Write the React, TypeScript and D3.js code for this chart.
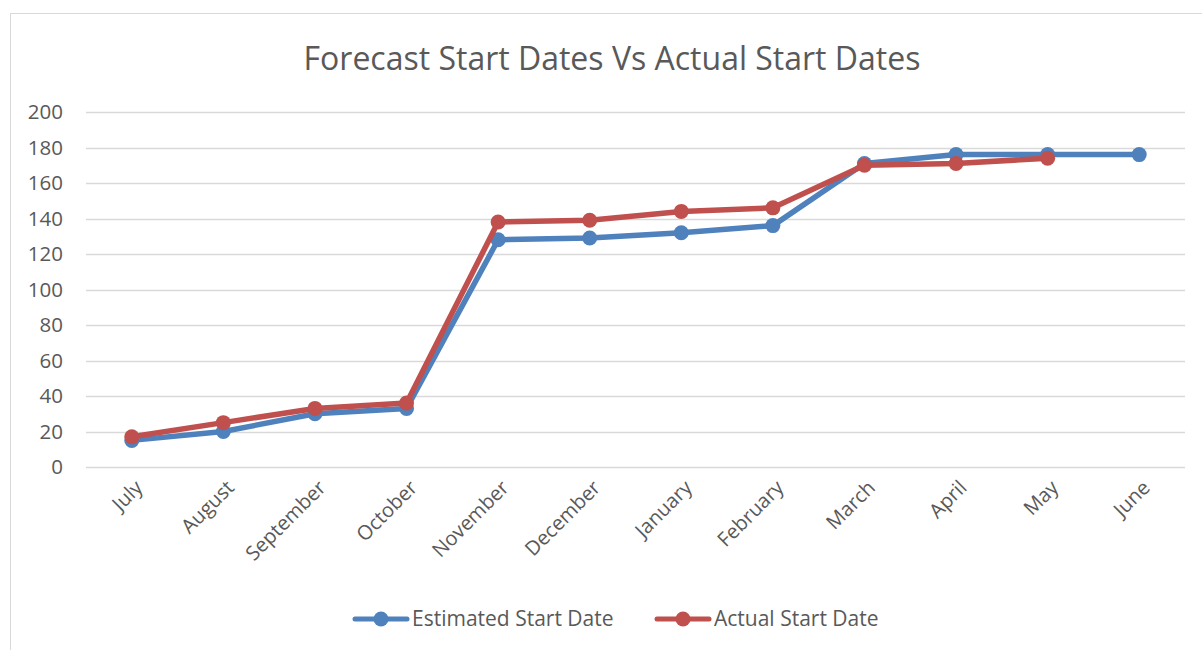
import { useEffect, useRef } from "react";
import * as d3 from "d3";

const months = ["July", "August", "September", "October", "November", "December", "January", "February", "March", "April", "May", "June"];
const estimated = [15, 20, 30, 33, 128, 129, 132, 136, 171, 176, 176, 176];
const actual = [17, 25, 33, 36, 138, 139, 144, 146, 170, 171, 174];
const yTicks = [0, 20, 40, 60, 80, 100, 120, 140, 160, 180, 200];

const series = [
  { name: "Estimated Start Date", values: estimated, color: "#4f81bd" },
  { name: "Actual Start Date", values: actual, color: "#c0504d" },
];

const W = 1202;
const H = 650;
const FONT = "'Open Sans', sans-serif";

export default function App() {
  const ref = useRef<SVGSVGElement>(null);

  useEffect(() => {
    const svg = d3.select(ref.current);
    svg.selectAll("*").remove();

    // chart frame (runs off the right/bottom edge like the screenshot)
    svg.append("rect")
      .attr("x", 10.5).attr("y", 13.5)
      .attr("width", W).attr("height", H)
      .attr("fill", "#fff")
      .attr("stroke", "#d9d9d9");

    svg.append("text")
      .attr("x", 612).attr("y", 70)
      .attr("text-anchor", "middle")
      .attr("font-family", FONT)
      .attr("font-size", 32)
      .attr("fill", "#595959")
      .text("Forecast Start Dates Vs Actual Start Dates");

    const x = d3.scaleBand().domain(months).range([86, 1185]);
    const y = d3.scaleLinear().domain([0, 200]).range([467, 112]);

    // gridlines + y labels
    const yAxis = svg.append("g");
    yAxis.selectAll("line")
      .data(yTicks)
      .join("line")
      .attr("x1", 86).attr("x2", 1185)
      .attr("y1", d => Math.round(y(d)) + 0.5)
      .attr("y2", d => Math.round(y(d)) + 0.5)
      .attr("stroke", "#d9d9d9")
      .attr("stroke-width", 1.5);
    yAxis.selectAll("text")
      .data(yTicks)
      .join("text")
      .attr("x", 63).attr("y", d => y(d))
      .attr("dy", "0.35em")
      .attr("text-anchor", "end")
      .attr("font-family", FONT)
      .attr("font-size", 20.5)
      .attr("fill", "#595959")
      .text(d => d);

    // x labels, rotated
    const cx = (m: string) => (x(m) as number) + x.bandwidth() / 2;
    svg.append("g").selectAll("text")
      .data(months)
      .join("text")
      .attr("transform", d => `translate(${cx(d) + 7},${484}) rotate(-45)`)
      .attr("text-anchor", "end")
      .attr("dy", "0.35em")
      .attr("font-family", FONT)
      .attr("font-size", 20)
      .attr("fill", "#595959")
      .text(d => d);

    const line = d3.line<number>()
      .x((_, i) => cx(months[i]))
      .y(d => y(d));

    series.forEach(s => {
      const g = svg.append("g");
      g.append("path")
        .attr("d", line(s.values))
        .attr("fill", "none")
        .attr("stroke", s.color)
        .attr("stroke-width", 5.5)
        .attr("stroke-linejoin", "round");
      g.selectAll("circle")
        .data(s.values)
        .join("circle")
        .attr("cx", (_, i) => cx(months[i]))
        .attr("cy", d => y(d))
        .attr("r", 7.5)
        .attr("fill", s.color);
    });

    // legend
    const legendX = [355, 657];
    series.forEach((s, i) => {
      const g = svg.append("g").attr("transform", `translate(${legendX[i]},619)`);
      g.append("line")
        .attr("x1", 0).attr("x2", 52)
        .attr("stroke", s.color)
        .attr("stroke-width", 5)
        .attr("stroke-linecap", "round");
      g.append("circle").attr("cx", 26).attr("r", 7.5).attr("fill", s.color);
      g.append("text")
        .attr("x", 57).attr("dy", "0.35em")
        .attr("font-family", FONT)
        .attr("font-size", 21)
        .attr("fill", "#595959")
        .text(s.name);
    });
  }, []);

  return (
    <svg ref={ref} width={W} height={H}
      style={{ position: "absolute", left: 0, top: 0, background: "#fff" }} />
  );
}
